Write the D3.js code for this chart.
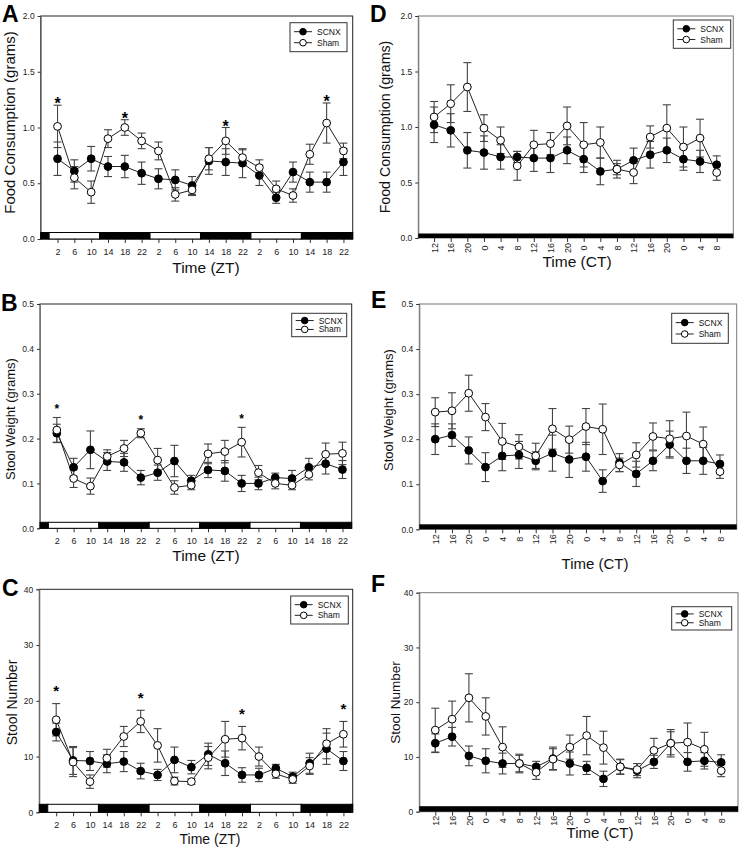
<!DOCTYPE html>
<html>
<head>
<meta charset="utf-8">
<script src="https://cdn.jsdelivr.net/npm/d3@7"></script>
<style>
  body { margin: 0; background: #fff; }
  svg { font-family: "Liberation Sans", Arial, sans-serif; }
</style>
</head>
<body>
<div id="chart"></div>
<script>
/* DATA */
const ztLabels = [2, 6, 10, 14, 18, 22, 2, 6, 10, 14, 18, 22, 2, 6, 10, 14, 18, 22];
const ctLabels = [12, 16, 20, 0, 4, 8, 12, 16, 20, 0, 4, 8, 12, 16, 20, 0, 4, 8];

// A - food, light/dark
const foodZtScnx = [0.72, 0.61, 0.72, 0.65, 0.65, 0.59, 0.54, 0.53, 0.48, 0.70, 0.69, 0.68, 0.57, 0.37, 0.60, 0.51, 0.51, 0.69];
const foodZtScnxSe = [0.15, 0.10, 0.11, 0.09, 0.10, 0.10, 0.09, 0.09, 0.08, 0.12, 0.12, 0.13, 0.09, 0.05, 0.09, 0.09, 0.09, 0.12];
const foodZtSham = [1.01, 0.55, 0.42, 0.90, 1.00, 0.88, 0.79, 0.40, 0.44, 0.72, 0.88, 0.73, 0.64, 0.45, 0.39, 0.76, 1.04, 0.79];
const foodZtShamSe = [0.19, 0.10, 0.10, 0.08, 0.07, 0.07, 0.08, 0.06, 0.05, 0.10, 0.12, 0.07, 0.07, 0.07, 0.06, 0.09, 0.18, 0.07];
const foodZtSig = [0, 4, 10, 16];

// B - stool weight, light/dark
const wtZtScnx = [0.212, 0.136, 0.175, 0.149, 0.147, 0.113, 0.124, 0.150, 0.106, 0.130, 0.128, 0.100, 0.100, 0.113, 0.111, 0.136, 0.144, 0.131];
const wtZtScnxSe = [0.020, 0.020, 0.042, 0.020, 0.020, 0.016, 0.017, 0.035, 0.012, 0.017, 0.023, 0.018, 0.014, 0.010, 0.018, 0.020, 0.023, 0.020];
const wtZtSham = [0.219, 0.111, 0.094, 0.160, 0.178, 0.212, 0.152, 0.091, 0.096, 0.166, 0.171, 0.192, 0.124, 0.100, 0.096, 0.120, 0.165, 0.167];
const wtZtShamSe = [0.028, 0.020, 0.018, 0.015, 0.018, 0.010, 0.026, 0.015, 0.010, 0.022, 0.025, 0.033, 0.016, 0.012, 0.010, 0.012, 0.025, 0.025];
const wtZtSig = [0, 5, 11];

// C - stool number, light/dark
const numZtScnx = [14.4, 9.3, 9.2, 8.7, 9.1, 7.4, 6.7, 9.4, 8.1, 10.4, 8.8, 6.7, 6.7, 7.9, 6.4, 8.8, 11.4, 9.2];
const numZtScnxSe = [1.6, 2.5, 1.7, 1.6, 1.8, 1.4, 1.0, 2.3, 1.2, 2.0, 2.2, 1.3, 1.2, 0.7, 0.8, 1.8, 2.8, 1.7];
const numZtSham = [16.6, 9.0, 5.5, 9.7, 13.6, 16.3, 12.0, 5.6, 5.5, 9.8, 13.1, 13.3, 10.0, 6.9, 5.9, 8.3, 12.3, 14.0];
const numZtShamSe = [2.9, 2.6, 1.2, 1.6, 1.8, 2.0, 3.0, 0.7, 0.5, 2.0, 3.2, 2.1, 1.7, 0.8, 0.7, 1.5, 2.7, 2.3];
const numZtSig = [0, 5, 11, 17];

// D - food, constant dark
const foodCtScnx = [1.02, 0.97, 0.79, 0.77, 0.73, 0.73, 0.72, 0.72, 0.79, 0.71, 0.60, 0.62, 0.70, 0.75, 0.79, 0.71, 0.69, 0.66];
const foodCtScnxSe = [0.16, 0.15, 0.16, 0.15, 0.11, 0.05, 0.12, 0.13, 0.12, 0.12, 0.12, 0.05, 0.11, 0.12, 0.11, 0.10, 0.10, 0.08];
const foodCtSham = [1.09, 1.21, 1.36, 0.99, 0.88, 0.65, 0.84, 0.85, 1.01, 0.84, 0.86, 0.62, 0.59, 0.91, 0.99, 0.82, 0.90, 0.59];
const foodCtShamSe = [0.14, 0.17, 0.22, 0.12, 0.12, 0.13, 0.13, 0.10, 0.17, 0.20, 0.14, 0.08, 0.10, 0.10, 0.21, 0.18, 0.17, 0.07];

// E - stool weight, constant dark
const wtCtScnx = [0.200, 0.209, 0.175, 0.138, 0.163, 0.165, 0.152, 0.169, 0.155, 0.161, 0.107, 0.148, 0.123, 0.152, 0.188, 0.152, 0.152, 0.145];
const wtCtScnxSe = [0.034, 0.025, 0.030, 0.032, 0.033, 0.030, 0.020, 0.040, 0.040, 0.032, 0.025, 0.020, 0.028, 0.022, 0.030, 0.028, 0.030, 0.020];
const wtCtSham = [0.260, 0.263, 0.302, 0.249, 0.195, 0.183, 0.163, 0.223, 0.199, 0.228, 0.222, 0.143, 0.165, 0.206, 0.201, 0.207, 0.189, 0.128];
const wtCtShamSe = [0.032, 0.040, 0.040, 0.030, 0.040, 0.027, 0.028, 0.045, 0.030, 0.040, 0.056, 0.015, 0.027, 0.030, 0.040, 0.053, 0.038, 0.015];

// F - stool number, constant dark
const numCtScnx = [12.5, 13.7, 10.2, 9.3, 8.8, 8.8, 8.2, 9.7, 8.8, 8.0, 6.0, 8.2, 7.5, 9.1, 12.5, 9.1, 9.3, 9.0];
const numCtScnxSe = [1.7, 1.7, 1.8, 2.2, 1.9, 1.5, 1.0, 2.1, 2.1, 1.2, 1.4, 1.3, 1.3, 1.2, 2.1, 1.7, 1.5, 1.4];
const numCtSham = [14.9, 16.9, 20.8, 17.4, 11.8, 8.8, 7.2, 9.6, 11.8, 13.9, 11.7, 8.2, 7.7, 11.2, 12.5, 12.7, 11.4, 7.5];
const numCtShamSe = [4.0, 3.3, 4.4, 3.4, 3.7, 1.7, 1.3, 1.9, 2.2, 3.5, 3.0, 1.4, 1.1, 2.2, 2.5, 3.5, 3.1, 1.1];

const seriesNames = ["SCNX", "Sham"];

/* LAYOUT */
const W = 740, H = 848;
const svg = d3.select("#chart").append("svg")
  .attr("width", W).attr("height", H);

const panels = [
  { letter: "A", lx: 2, ly: 22, left: 40.7, right: 352.7, top: 16, bottom: 239,
    mode: "ZT", yMax: 2, yTicks: [0, 0.5, 1, 1.5, 2], yFmt: d3.format(".1f"),
    scnx: foodZtScnx, scnxSe: foodZtScnxSe, sham: foodZtSham, shamSe: foodZtShamSe, sig: foodZtSig,
    yTitle: "Food Consumption (grams)", yTx: 10, yTy: 122.5, yTs: 15,
    xTitle: "Time (ZT)", xTx: 206, xTy: 273, xTs: 15.5,
    barH: 6.5, leg: [290, 22.7, 57, 29], starSize: 16, starGap: 3 },
  { letter: "B", lx: 1, ly: 311, left: 40, right: 351.7, top: 304, bottom: 528.3,
    mode: "ZT", yMax: 0.5, yTicks: [0, 0.1, 0.2, 0.3, 0.4, 0.5], yFmt: d3.format(".1f"),
    scnx: wtZtScnx, scnxSe: wtZtScnxSe, sham: wtZtSham, shamSe: wtZtShamSe, sig: wtZtSig,
    yTitle: "Stool Weight (grams)", yTx: 10, yTy: 419, yTs: 13,
    xTitle: "Time (ZT)", xTx: 206, xTy: 561, xTs: 15.5,
    barH: 6, leg: [291.7, 313.3, 55, 23.4], starSize: 12, starGap: 10 },
  { letter: "C", lx: 2, ly: 596, left: 39.3, right: 352.7, top: 589.3, bottom: 812.3,
    mode: "ZT", yMax: 40, yTicks: [0, 10, 20, 30, 40], yFmt: d3.format("d"),
    scnx: numZtScnx, scnxSe: numZtScnxSe, sham: numZtSham, shamSe: numZtShamSe, sig: numZtSig,
    yTitle: "Stool Number", yTx: 12, yTy: 702.5, yTs: 14,
    xTitle: "Time (ZT)", xTx: 210, xTy: 844, xTs: 14,
    barH: 8, leg: [290.7, 596, 57.6, 28], starSize: 15, starGap: 14 },
  { letter: "D", lx: 370, ly: 22, left: 418.3, right: 733.3, top: 16, bottom: 238,
    mode: "CT", yMax: 2, yTicks: [0, 0.5, 1, 1.5, 2], yFmt: d3.format(".1f"),
    scnx: foodCtScnx, scnxSe: foodCtScnxSe, sham: foodCtSham, shamSe: foodCtShamSe, sig: [],
    yTitle: "Food Consumption (grams)", yTx: 385, yTy: 127, yTs: 14.2,
    xTitle: "Time (CT)", xTx: 577, xTy: 267, xTs: 15.5, labDy: 10,
    barH: 4.5, leg: [673.3, 20, 57.4, 28.3] },
  { letter: "E", lx: 371, ly: 308, left: 419.3, right: 736.7, top: 304, bottom: 529.3,
    mode: "CT", yMax: 0.5, yTicks: [0, 0.1, 0.2, 0.3, 0.4, 0.5], yFmt: d3.format(".1f"),
    scnx: wtCtScnx, scnxSe: wtCtScnxSe, sham: wtCtSham, shamSe: wtCtShamSe, sig: [],
    yTitle: "Stool Weight (grams)", yTx: 388, yTy: 410, yTs: 13,
    xTitle: "Time (CT)", xTx: 595, xTy: 569, xTs: 15, labDy: 10,
    barH: 5, leg: [671.7, 313.3, 56.6, 30] },
  { letter: "F", lx: 371, ly: 592, left: 419.3, right: 738, top: 592.7, bottom: 811.7,
    mode: "CT", yMax: 40, yTicks: [0, 10, 20, 30, 40], yFmt: d3.format("d"),
    scnx: numCtScnx, scnxSe: numCtScnxSe, sham: numCtSham, shamSe: numCtShamSe, sig: [],
    yTitle: "Stool Number", yTx: 395, yTy: 702.5, yTs: 13.5,
    xTitle: "Time (CT)", xTx: 600, xTy: 838, xTs: 15, labDy: 9,
    barH: 5.5, leg: [671.7, 606.7, 60, 23.3] }
];

panels.forEach(drawPanel);

function drawPanel(p) {
  const g = svg.append("g");
  const zt = p.mode === "ZT";
  const labels = zt ? ztLabels : ctLabels;
  const x = d3.scaleLinear()
    .domain(zt ? [-1, 17.55] : [-0.95, 18])
    .range([p.left, p.right]);
  const y = d3.scaleLinear()
    .domain([0, p.yMax])
    .range([p.bottom, p.top]);

  // frame
  g.append("rect")
    .attr("x", p.left).attr("y", p.top)
    .attr("width", p.right - p.left).attr("height", p.bottom - p.top)
    .attr("fill", "none")
    .attr("stroke", zt ? "#222" : "#777")
    .attr("stroke-width", 1);

  // y axis
  const ya = g.append("g")
    .attr("transform", `translate(${p.left},0)`)
    .call(d3.axisLeft(y).tickValues(p.yTicks).tickFormat(p.yFmt).tickSize(3).tickPadding(3));
  ya.select(".domain").attr("stroke", "#777");
  ya.selectAll(".tick line").attr("stroke", "#333");
  ya.selectAll("text").attr("font-size", 8.5).attr("fill", "#222")
    .attr("font-family", "Liberation Sans, Arial, sans-serif");

  // x axis
  const xa = g.append("g")
    .attr("transform", `translate(0,${p.bottom})`)
    .call(d3.axisBottom(x).tickValues(d3.range(labels.length))
      .tickFormat(i => labels[i]).tickSize(4).tickPadding(5.5));
  xa.select(".domain").remove();
  xa.selectAll(".tick line").attr("stroke", "#333");
  xa.selectAll("text").attr("font-size", 9).attr("fill", "#222")
    .attr("font-family", "Liberation Sans, Arial, sans-serif");
  if (!zt) {
    xa.selectAll("text")
      .attr("y", 0).attr("dy", "0.35em")
      .attr("text-anchor", "middle")
      .attr("transform", `translate(0,${p.labDy}) rotate(-90)`);
  }

  // lighting bar
  if (zt) {
    const hourToIdx = h => (h - 2) / 4;
    const [d0, d1] = x.domain();
    const segs = [];
    let h = 2 + 4 * d0;
    const hEnd = 2 + 4 * d1;
    while (h < hEnd - 1e-9) {
      const k = Math.floor(h / 12);
      const next = Math.min((k + 1) * 12, hEnd);
      segs.push({ a: h, b: next, light: ((k % 2) + 2) % 2 === 0 });
      h = next;
    }
    g.selectAll(".ld").data(segs).join("rect")
      .attr("class", "ld")
      .attr("x", d => x(hourToIdx(d.a)))
      .attr("width", d => x(hourToIdx(d.b)) - x(hourToIdx(d.a)))
      .attr("y", p.bottom - p.barH).attr("height", p.barH)
      .attr("fill", d => d.light ? "#fff" : "#000")
      .attr("stroke", "#000").attr("stroke-width", 1);
  } else {
    g.append("rect")
      .attr("x", p.left).attr("width", p.right - p.left)
      .attr("y", p.bottom - p.barH).attr("height", p.barH)
      .attr("fill", "#000");
  }

  const series = [
    { name: seriesNames[0], v: p.scnx, se: p.scnxSe, fill: "#000" },
    { name: seriesNames[1], v: p.sham, se: p.shamSe, fill: "#fff" }
  ];

  // error bars
  series.forEach(s => {
    const rows = s.v.map((v, i) => ({ i, v, se: s.se[i] }));
    const eb = g.append("g").attr("stroke", "#444").attr("stroke-width", 1.1);
    eb.selectAll(".v").data(rows).join("line")
      .attr("x1", d => x(d.i)).attr("x2", d => x(d.i))
      .attr("y1", d => y(d.v - d.se)).attr("y2", d => y(d.v + d.se));
    eb.selectAll(".t").data(rows).join("line")
      .attr("x1", d => x(d.i) - 4).attr("x2", d => x(d.i) + 4)
      .attr("y1", d => y(d.v + d.se)).attr("y2", d => y(d.v + d.se));
    eb.selectAll(".b").data(rows).join("line")
      .attr("x1", d => x(d.i) - 4).attr("x2", d => x(d.i) + 4)
      .attr("y1", d => y(d.v - d.se)).attr("y2", d => y(d.v - d.se));
  });

  // lines
  const line = d3.line().x((d, i) => x(i)).y(d => y(d));
  series.forEach(s => {
    g.append("path").datum(s.v)
      .attr("d", line)
      .attr("fill", "none").attr("stroke", "#222").attr("stroke-width", 1);
  });

  // markers
  series.forEach(s => {
    g.selectAll(null).data(s.v).join("circle")
      .attr("cx", (d, i) => x(i)).attr("cy", d => y(d))
      .attr("r", 3.9)
      .attr("fill", s.fill).attr("stroke", "#000").attr("stroke-width", 1);
  });

  // significance stars
  g.selectAll(".star").data(p.sig).join("text")
    .attr("class", "star")
    .attr("x", i => x(i))
    .attr("y", i => Math.min(y(p.scnx[i] + p.scnxSe[i]), y(p.sham[i] + p.shamSe[i])) - p.starGap + p.starSize * 0.45)
    .attr("text-anchor", "middle")
    .attr("font-size", p.starSize).attr("font-weight", "bold")
    .text("*");

  // legend
  const [lx, ly, lw, lh] = p.leg;
  const lg = g.append("g");
  lg.append("rect").attr("x", lx).attr("y", ly).attr("width", lw).attr("height", lh)
    .attr("fill", "#fff").attr("stroke", "#333").attr("stroke-width", 1);
  series.forEach((s, k) => {
    const ry = ly + lh * (k === 0 ? 0.31 : 0.69);
    lg.append("line").attr("x1", lx + 4).attr("x2", lx + 22)
      .attr("y1", ry).attr("y2", ry).attr("stroke", "#222");
    lg.append("circle").attr("cx", lx + 13).attr("cy", ry).attr("r", 3.3)
      .attr("fill", s.fill).attr("stroke", "#000");
    lg.append("text").attr("x", lx + 27).attr("y", ry).attr("dy", "0.35em")
      .attr("font-size", 8.5).attr("fill", "#111").text(s.name);
  });

  // titles
  g.append("text")
    .attr("transform", `translate(${p.yTx},${p.yTy}) rotate(-90)`)
    .attr("text-anchor", "middle").attr("dy", "0.35em")
    .attr("font-size", p.yTs).attr("fill", "#111")
    .text(p.yTitle);
  g.append("text")
    .attr("x", p.xTx).attr("y", p.xTy)
    .attr("text-anchor", "middle")
    .attr("font-size", p.xTs).attr("fill", "#111")
    .text(p.xTitle);

  // panel letter
  g.append("text")
    .attr("x", p.lx).attr("y", p.ly)
    .attr("font-size", 23).attr("font-weight", "bold")
    .text(p.letter);
}
</script>
</body>
</html>
